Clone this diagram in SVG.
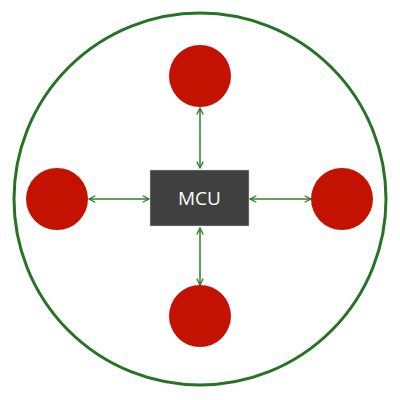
<svg xmlns="http://www.w3.org/2000/svg" width="400" height="400" viewBox="0 0 400 400">
<style>
.ring{fill:none;stroke:#267326;stroke-width:3}
.dot{fill:#c41200}
.link{stroke:#2e7d2e;stroke-width:1.5;fill:none}
.lbl{font-family:"Open Sans","Liberation Sans",sans-serif;font-size:19px;fill:#ffffff;text-anchor:middle}
</style>
<defs>
<marker id="ah" viewBox="0 0 10 10" refX="9" refY="5" markerWidth="8" markerHeight="8" markerUnits="userSpaceOnUse" orient="auto-start-reverse">
<path d="M1,1 L9,5 L1,9" fill="none" stroke="#2e7d2e" stroke-width="1.6"/>
</marker>
</defs>
<rect width="400" height="400" fill="#ffffff"/>
<circle class="ring" cx="200" cy="199" r="186"/>
<g id="connectors">
<line class="link" x1="200" y1="108" x2="200" y2="168" marker-start="url(#ah)" marker-end="url(#ah)"/>
<line class="link" x1="200" y1="228" x2="200" y2="285" marker-start="url(#ah)" marker-end="url(#ah)"/>
<line class="link" x1="89" y1="199" x2="149" y2="199" marker-start="url(#ah)" marker-end="url(#ah)"/>
<line class="link" x1="250" y1="199" x2="311" y2="199" marker-start="url(#ah)" marker-end="url(#ah)"/>
</g>
<g id="top"><circle class="dot" cx="200" cy="76" r="31"/></g>
<g id="left"><circle class="dot" cx="57" cy="199" r="31"/></g>
<g id="right"><circle class="dot" cx="342" cy="199" r="31"/></g>
<g id="bottom"><circle class="dot" cx="200" cy="316" r="31"/></g>
<g id="mcu">
<rect x="150" y="170" width="99" height="56" fill="#404040" stroke="#d0d0d0" stroke-width="0.5"/>
<text class="lbl" x="199.5" y="205">MCU</text>
</g>
</svg>
